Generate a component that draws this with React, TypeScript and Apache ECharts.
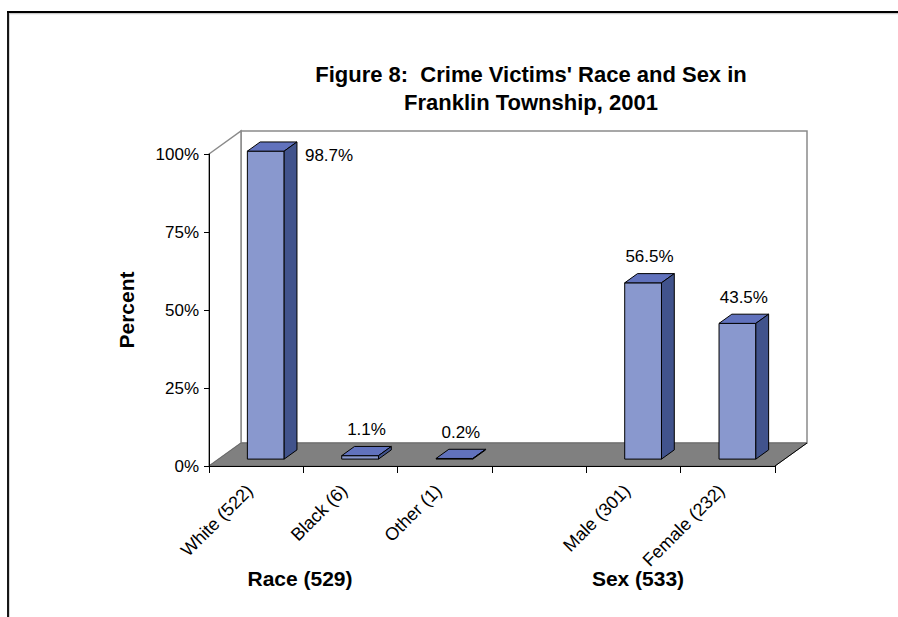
import React, { useEffect, useRef } from "react";
import * as echarts from "echarts";

const categories = ["White (522)", "Black (6)", "Other (1)", "", "Male (301)", "Female (232)"];
const values: (number | null)[] = [98.7, 1.1, 0.2, null, 56.5, 43.5];
const yTicks = [0, 25, 50, 75, 100];
const groupLabels = ["Race (529)", "Sex (533)"];
const titleLines = ["Figure 8:  Crime Victims' Race and Sex in", "Franklin Township, 2001"];

const FONT = "'Liberation Sans', Arial, Helvetica, sans-serif";
const DEPTH_X = 32;
const DEPTH_Y = -23;
const BAR_FRONT = 0.3;
const BAR_BACK = 0.7;

export default function App() {
  const ref = useRef<HTMLDivElement>(null);
  useEffect(() => {
    if (!ref.current) return;
    const chart = echarts.init(ref.current, undefined, { renderer: "svg" });
    const barData = values
      .map((v, i) => (v === null ? null : [i, v]))
      .filter((d) => d !== null) as number[][];

    const option: any = {
      animation: false,
      backgroundColor: "#ffffff",
      title: {
        text: titleLines.join("\n"),
        left: 526,
        top: 55,
        textAlign: "center",
        textStyle: {
          fontFamily: FONT,
          fontSize: 22,
          fontWeight: "bold",
          color: "#000",
          lineHeight: 28,
        },
      },
      grid: { left: 209, top: 154, right: 123, bottom: 151, containLabel: false },
      xAxis: {
        type: "category",
        data: categories,
        z: 10,
        axisLine: { show: true, lineStyle: { color: "#000", width: 1 } },
        axisTick: { show: true, length: 7, interval: 0, lineStyle: { color: "#000" } },
        axisLabel: {
          interval: 0,
          rotate: 45,
          margin: 28,
          verticalAlign: "bottom",
          fontFamily: FONT,
          fontSize: 18,
          color: "#000",
        },
        splitLine: { show: false },
      },
      yAxis: {
        type: "value",
        min: 0,
        max: 100,
        interval: 25,
        z: 10,
        name: "Percent",
        nameLocation: "middle",
        nameRotate: 90,
        nameGap: 72,
        nameTextStyle: { fontFamily: FONT, fontSize: 21, fontWeight: "bold", color: "#000" },
        axisLine: { show: true, lineStyle: { color: "#000", width: 1 } },
        axisTick: { show: true, length: 5, lineStyle: { color: "#000" } },
        axisLabel: {
          formatter: (v: number) => (yTicks.includes(v) ? v + "%" : ""),
          fontFamily: FONT,
          fontSize: 17,
          color: "#000",
          margin: 10,
        },
        splitLine: { show: false },
      },
      series: [
        {
          type: "custom",
          z: 1,
          silent: true,
          data: [[0, 0]],
          renderItem: (params: any) => {
            const cs = params.coordSys;
            const x = cs.x, y = cs.y, w = cs.width, h = cs.height;
            return {
              type: "group",
              children: [
                {
                  type: "rect",
                  shape: { x: x + DEPTH_X, y: y + DEPTH_Y, width: w, height: h },
                  style: { fill: "#ffffff", stroke: "#8a8a8a", lineWidth: 1.5 },
                },
                {
                  type: "polygon",
                  shape: {
                    points: [
                      [x, y],
                      [x + DEPTH_X, y + DEPTH_Y],
                      [x + DEPTH_X, y + h + DEPTH_Y],
                      [x, y + h],
                    ],
                  },
                  style: { fill: "#ffffff", stroke: "#8a8a8a", lineWidth: 1.5 },
                },
                {
                  type: "polygon",
                  shape: {
                    points: [
                      [x, y + h],
                      [x + DEPTH_X, y + h + DEPTH_Y],
                      [x + w + DEPTH_X, y + h + DEPTH_Y],
                      [x + w, y + h],
                    ],
                  },
                  style: { fill: "#808080", stroke: "#6a6a6a", lineWidth: 1 },
                },
                {
                  type: "line",
                  shape: { x1: x + w, y1: y + h, x2: x + w + DEPTH_X, y2: y + h + DEPTH_Y },
                  style: { stroke: "#000", lineWidth: 1 },
                },
              ],
            };
          },
        },
        {
          type: "custom",
          z: 3,
          data: barData,
          encode: { x: 0, y: 1 },
          renderItem: (params: any, api: any) => {
            const idx = api.value(0);
            const v = api.value(1);
            const base = api.coord([idx, 0]);
            const top = api.coord([idx, v]);
            const bw = api.size([1, 0])[0] * 0.39;
            const fdx = DEPTH_X * BAR_FRONT, fdy = DEPTH_Y * BAR_FRONT;
            const sdx = DEPTH_X * (BAR_BACK - BAR_FRONT), sdy = DEPTH_Y * (BAR_BACK - BAR_FRONT);
            const fx = base[0] + fdx - bw / 2;
            const fyB = base[1] + fdy;
            const fyT = top[1] + fdy;
            const stroke = { stroke: "#000", lineWidth: 1, lineJoin: "round" };
            const label = `${v.toFixed(1)}%`;
            const cs = params.coordSys;
            const tooHigh = fyT - 27 < cs.y;
            const text = tooHigh
              ? {
                  type: "text",
                  style: {
                    text: label,
                    x: fx + bw + sdx + 8,
                    y: fyT + 4,
                    align: "left",
                    verticalAlign: "middle",
                    fontFamily: FONT,
                    fontSize: 17,
                    fill: "#000",
                  },
                }
              : {
                  type: "text",
                  style: {
                    text: label,
                    x: fx + bw / 2 + sdx / 2,
                    y: fyT - 26,
                    align: "center",
                    verticalAlign: "middle",
                    fontFamily: FONT,
                    fontSize: 17,
                    fill: "#000",
                  },
                };
            return {
              type: "group",
              children: [
                {
                  type: "polygon",
                  shape: { points: [[fx, fyT], [fx + bw, fyT], [fx + bw, fyB], [fx, fyB]] },
                  style: { fill: "#8998CE", ...stroke },
                },
                {
                  type: "polygon",
                  shape: {
                    points: [[fx, fyT], [fx + sdx, fyT + sdy], [fx + bw + sdx, fyT + sdy], [fx + bw, fyT]],
                  },
                  style: { fill: "#6172BD", ...stroke },
                },
                {
                  type: "polygon",
                  shape: {
                    points: [[fx + bw, fyT], [fx + bw + sdx, fyT + sdy], [fx + bw + sdx, fyB + sdy], [fx + bw, fyB]],
                  },
                  style: { fill: "#41538C", ...stroke },
                },
                text,
              ],
            };
          },
        },
      ],
      graphic: [
        {
          type: "line",
          shape: { x1: 9, y1: 14, x2: 9, y2: 640 },
          style: { stroke: "#c8c8c8", lineWidth: 1.5 },
          z: 0,
        },
        {
          type: "line",
          shape: { x1: 9, y1: 13.5, x2: 920, y2: 13.5 },
          style: { stroke: "#c8c8c8", lineWidth: 1.5 },
          z: 0,
        },
        {
          type: "line",
          shape: { x1: 8, y1: 11, x2: 8, y2: 640 },
          style: { stroke: "#000", lineWidth: 1.8 },
          z: 1,
        },
        {
          type: "line",
          shape: { x1: 7, y1: 12, x2: 920, y2: 12 },
          style: { stroke: "#000", lineWidth: 1.8 },
          z: 1,
        },
        {
          type: "text",
          style: {
            text: groupLabels[0],
            x: 300,
            y: 578,
            align: "center",
            verticalAlign: "middle",
            fontFamily: FONT,
            fontSize: 21,
            fontWeight: "bold",
            fill: "#000",
          },
        },
        {
          type: "text",
          style: {
            text: groupLabels[1],
            x: 638,
            y: 578,
            align: "center",
            verticalAlign: "middle",
            fontFamily: FONT,
            fontSize: 21,
            fontWeight: "bold",
            fill: "#000",
          },
        },
      ],
    };
    chart.setOption(option);
    return () => chart.dispose();
  }, []);
  return (
    <div
      ref={ref}
      style={{ position: "fixed", left: 0, top: 0, width: 898, height: 617 }}
    />
  );
}
